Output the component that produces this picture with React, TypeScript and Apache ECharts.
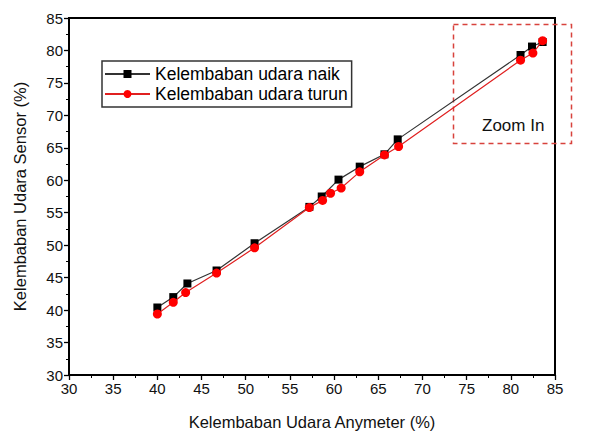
import React, { useEffect, useRef } from "react";
import * as echarts from "echarts";

const xTicks = [30, 35, 40, 45, 50, 55, 60, 65, 70, 75, 80, 85];
const xNaik = [40.0, 41.8, 43.4, 46.7, 51.0, 57.2, 58.6, 60.5, 62.9, 65.7, 67.2, 81.1, 82.4, 83.6];
const yNaik = [40.4, 42.0, 44.1, 46.1, 50.3, 55.9, 57.5, 60.1, 62.1, 64.0, 66.3, 79.3, 80.6, 81.3];
const xTurun = [40.0, 41.8, 43.2, 46.7, 51.0, 57.2, 58.7, 59.6, 60.8, 62.9, 65.7, 67.3, 81.1, 82.5, 83.6];
const yTurun = [39.4, 41.2, 42.7, 45.7, 49.6, 55.8, 56.9, 58.0, 58.8, 61.3, 63.9, 65.2, 78.5, 79.6, 81.5];
const seriesNames = ["Kelembaban udara naik", "Kelembaban udara turun"];
const xTitle = "Kelembaban Udara Anymeter (%)";
const yTitle = "Kelembaban Udara Sensor (%)";
const zoomLabel = "Zoom In";

export default function App() {
  const ref = useRef<HTMLDivElement>(null);
  useEffect(() => {
    if (!ref.current) return;
    const chart = echarts.init(ref.current, undefined, { renderer: "svg" });
    const font = "Arial, 'Liberation Sans', sans-serif";
    const axisCommon = {
      min: xTicks[0],
      max: xTicks[xTicks.length - 1],
      interval: 5,
      axisLine: { show: true, lineStyle: { color: "#000", width: 2 } },
      axisTick: { show: true, inside: false, length: 5, lineStyle: { color: "#000", width: 1.3 } },
      minorTick: { show: true, splitNumber: 2, length: 3, lineStyle: { color: "#000", width: 1 } },
      splitLine: { show: false },
      axisLabel: { color: "#111", fontSize: 15, fontFamily: font },
      nameTextStyle: { color: "#111", fontSize: 16.5, fontFamily: font },
    };
    chart.setOption({
      animation: false,
      backgroundColor: "#fff",
      grid: {
        left: 69,
        right: 42,
        top: 18,
        bottom: 57,
        show: true,
        borderColor: "#000",
        borderWidth: 2,
      },
      xAxis: {
        type: "value",
        ...axisCommon,
        name: xTitle,
        nameLocation: "middle",
        nameGap: 38,
        axisLabel: { ...axisCommon.axisLabel, margin: 6 },
      },
      yAxis: {
        type: "value",
        ...axisCommon,
        name: yTitle,
        nameLocation: "middle",
        nameGap: 41,
        axisLabel: { ...axisCommon.axisLabel, margin: 6 },
      },
      legend: {
        orient: "vertical",
        left: 102,
        top: 61,
        padding: [4, 4, 4, 2],
        itemGap: 2,
        itemWidth: 45,
        itemHeight: 10,
        borderColor: "#333",
        borderWidth: 1.5,
        textStyle: { color: "#000", fontSize: 17.5, fontFamily: font },
        data: seriesNames,
      },
      graphic: [
        {
          type: "rect",
          left: 451,
          top: 22,
          shape: { width: 118, height: 119 },
          style: { fill: "none", stroke: "#d8423c", lineWidth: 1.5, lineDash: [5, 4] },
          z: 1,
        },
        {
          type: "text",
          left: 482,
          top: 117,
          style: { text: zoomLabel, fill: "#111", fontSize: 17, fontFamily: font },
        },
      ],
      series: [
        {
          name: seriesNames[0],
          type: "line",
          data: xNaik.map((x, i) => [x, yNaik[i]]),
          symbol: "rect",
          symbolSize: 8,
          itemStyle: { color: "#000" },
          lineStyle: { color: "#333", width: 1.2 },
          z: 2,
        },
        {
          name: seriesNames[1],
          type: "line",
          data: xTurun.map((x, i) => [x, yTurun[i]]),
          symbol: "circle",
          symbolSize: 9,
          itemStyle: { color: "#ff0000" },
          lineStyle: { color: "#e02020", width: 1.2 },
          z: 3,
        },
      ],
    });
    return () => chart.dispose();
  }, []);
  return <div ref={ref} style={{ width: 597, height: 435, position: "absolute", left: 0, top: 0 }} />;
}
